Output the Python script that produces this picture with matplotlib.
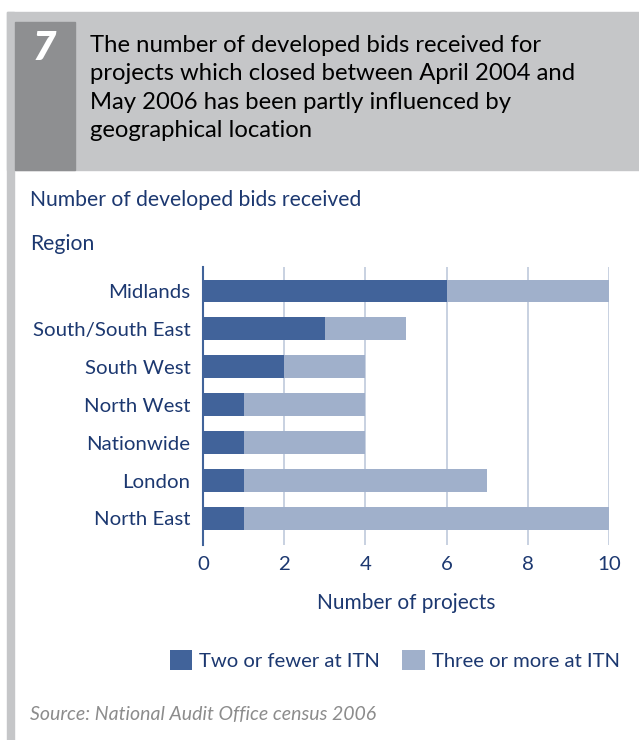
import matplotlib.pyplot as plt
from matplotlib.patches import Rectangle

regions = ["Midlands", "South/South East", "South West", "North West",
           "Nationwide", "London", "North East"]
two_or_fewer = [6, 3, 2, 1, 1, 1, 1]
three_or_more = [4, 2, 2, 3, 3, 6, 9]
x_ticks = [0, 2, 4, 6, 8, 10]

dark = "#41639a"
light = "#a0b0cb"
navy = "#1c3870"
plt.rcParams["font.family"] = ["Lato", "DejaVu Sans"]

fig = plt.figure(figsize=(6.39, 7.40), dpi=100)
W, H = 639, 740

def box(x, y, w, h, color):
    # rectangle in pixel coords (top-left origin)
    fig.patches.append(Rectangle((x / W, 1 - (y + h) / H), w / W, h / H,
                                 transform=fig.transFigure, color=color, zorder=0))

# header and frame
box(7, 12, 632, 158, "#c5c6c8")
box(7, 12, 7, 728, "#c5c6c8")
box(15, 22, 60, 148, "#8e8f91")
fig.text(44 / W, 1 - 49 / H, "7", color="white", fontsize=29, fontweight="heavy",
         fontstyle="italic", ha="center", va="center")
title = ("The number of developed bids received for\n"
         "projects which closed between April 2004 and\n"
         "May 2006 has been partly influenced by\n"
         "geographical location")
fig.text(90 / W, 1 - 88 / H, title, color="black", fontsize=17.2, ha="left", va="center",
         linespacing=1.42)

fig.text(30 / W, 1 - 200 / H, "Number of developed bids received", color=navy,
         fontsize=15.2, ha="left", va="center")
fig.text(30 / W, 1 - 244 / H, "Region", color=navy, fontsize=15.2, ha="left", va="center")

ax = fig.add_axes([203 / W, 1 - 545 / H, 406 / W, 278 / H])
y = list(range(len(regions)))
ax.barh(y, two_or_fewer, height=0.6, color=dark, label="Two or fewer at ITN", zorder=3)
ax.barh(y, three_or_more, left=two_or_fewer, height=0.6, color=light,
        label="Three or more at ITN", zorder=3)
ax.set_xlim(0, 10)
ax.set_ylim(6.7, -0.63)
ax.set_yticks(y)
ax.set_yticklabels(regions)
ax.set_xticks(x_ticks)
ax.tick_params(axis="both", length=0, colors=navy, labelsize=14.7)
ax.tick_params(axis="y", pad=9)
ax.tick_params(axis="x", pad=8)
for t in x_ticks[1:]:
    ax.axvline(t, color="#bfcadc", lw=1.2, zorder=1)
for s in ["top", "right", "bottom"]:
    ax.spines[s].set_visible(False)
ax.spines["left"].set_color(dark)
ax.spines["left"].set_linewidth(1.5)
ax.set_xlabel("Number of projects", color=navy, fontsize=15, labelpad=14)

fig.legend(loc="center right", bbox_to_anchor=(630 / W, 1 - 660 / H), ncol=2,
           frameon=False, fontsize=14.6, labelcolor=navy, handlelength=1.1,
           handleheight=1.1, handletextpad=0.35, columnspacing=1.1, borderpad=0)

fig.text(30 / W, 1 - 715 / H, "Source: National Audit Office census 2006", color="#8c8c8c",
         fontsize=14, fontstyle="italic", ha="left", va="center")

fig.savefig("out.png", dpi=100)
